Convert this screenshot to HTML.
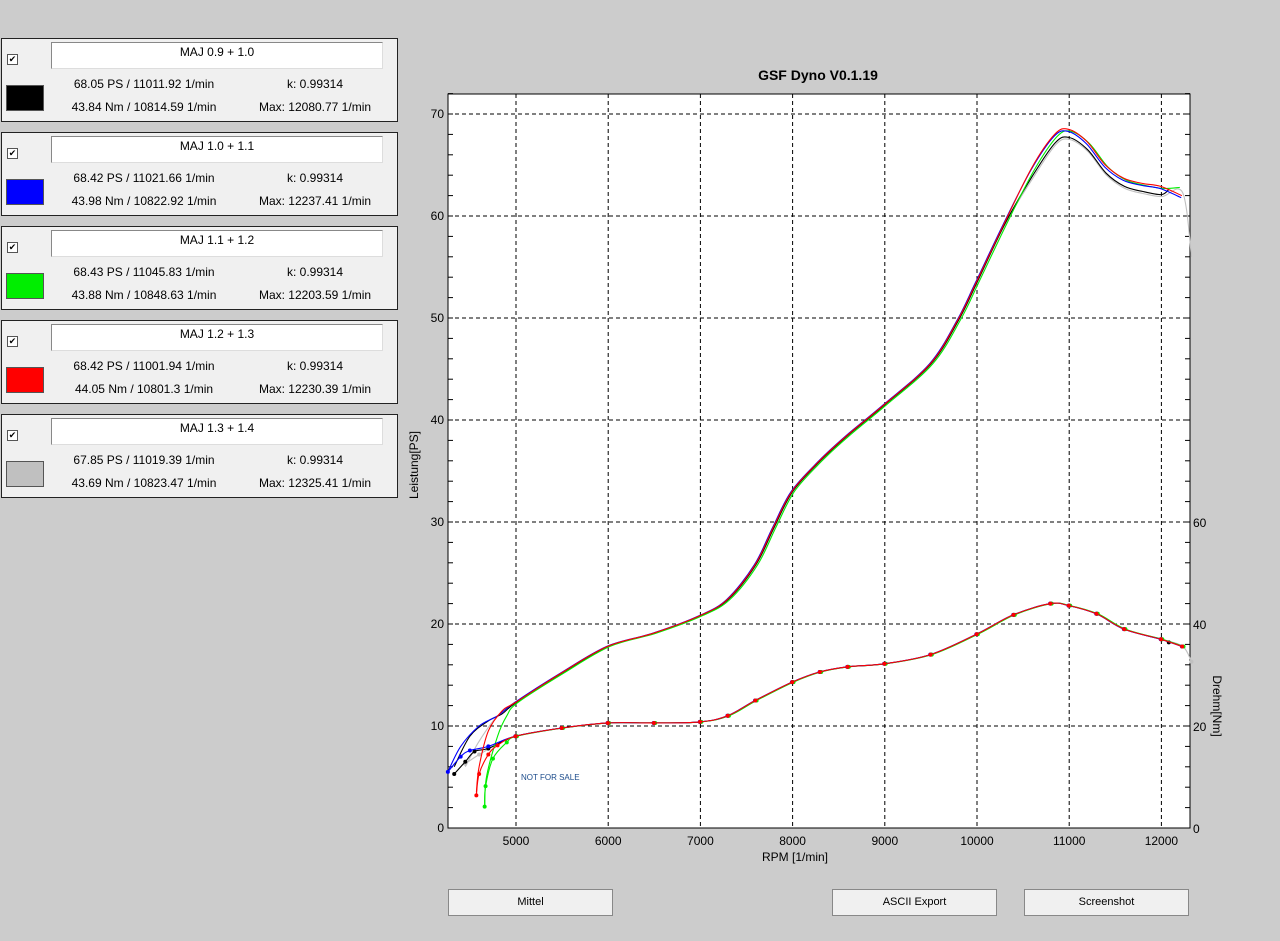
<!DOCTYPE html>
<html><head><meta charset="utf-8"><style>
body{margin:0;width:1280px;height:941px;background:#cccccc;font-family:"Liberation Sans",Arial,sans-serif;position:relative;overflow:hidden}
.p{position:absolute;left:1px;width:395px;height:82px;background:#f0f0f0;border:1px solid #222}
.t{position:absolute;left:49px;top:3px;width:330px;height:25px;background:#fff;border:1px solid #888;border-right-color:#ddd;border-bottom-color:#ddd;font-size:12px;text-align:center;line-height:19px}
.cb{position:absolute;left:5px;top:15px;width:9px;height:9px;background:#fff;border:1px solid #555;font-size:9px;line-height:9px;text-align:center}
.sw{position:absolute;left:4px;top:46px;width:36px;height:24px;border:1px solid #555}
.l{position:absolute;font-size:12px;white-space:nowrap;transform:translateX(-50%)}
.b{position:absolute;top:889px;width:163px;height:25px;background:#f0f0f0;border:1px solid #888;font-size:11px;text-align:center;line-height:25px}
</style></head><body>
<div id="panels"></div>
<div style="position:absolute;left:660px;top:67px;width:316px;text-align:center;font-weight:bold;font-size:14px">GSF Dyno V0.1.19</div>
<svg id="s" width="1280" height="941" style="position:absolute;left:0;top:0" font-family="Liberation Sans,Arial,sans-serif"></svg>
<div class="b" style="left:448px">Mittel</div>
<div class="b" style="left:832px">ASCII Export</div>
<div class="b" style="left:1024px">Screenshot</div>
<script>
const P=[["MAJ 0.9 + 1.0","68.05 PS / 11011.92 1/min","43.84 Nm / 10814.59 1/min","Max: 12080.77 1/min","#000"],
["MAJ 1.0 + 1.1","68.42 PS / 11021.66 1/min","43.98 Nm / 10822.92 1/min","Max: 12237.41 1/min","#0000ff"],
["MAJ 1.1 + 1.2","68.43 PS / 11045.83 1/min","43.88 Nm / 10848.63 1/min","Max: 12203.59 1/min","#00ee00"],
["MAJ 1.2 + 1.3","68.42 PS / 11001.94 1/min","44.05 Nm / 10801.3 1/min","Max: 12230.39 1/min","#ff0000"],
["MAJ 1.3 + 1.4","67.85 PS / 11019.39 1/min","43.69 Nm / 10823.47 1/min","Max: 12325.41 1/min","#c0c0c0"]];
let h="";P.forEach((p,i)=>{h+=`<div class="p" style="top:${38+i*94}px"><div class="t">${p[0]}</div><div class="cb">✔</div><div class="sw" style="background:${p[4]}"></div><div class="l" style="left:142px;top:38px">${p[1]}</div><div class="l" style="left:142px;top:61px">${p[2]}</div><div class="l" style="left:313px;top:38px">k: 0.99314</div><div class="l" style="left:313px;top:61px">${p[3]}</div></div>`});
document.getElementById("panels").innerHTML=h;
const X=r=>516+(r-5000)*0.0922, Y=v=>828-v*10.2;
let s=`<rect x="448" y="94" width="742" height="734" fill="#fff" stroke="#000"/>`;
for(let r=5000;r<=12000;r+=1000){s+=`<line x1="${X(r)}" y1="94" x2="${X(r)}" y2="828" stroke="#000" stroke-dasharray="4,3"/><text x="${X(r)}" y="845" font-size="12" text-anchor="middle">${r}</text>`}
for(let v=10;v<=70;v+=10){s+=`<line x1="448" y1="${Y(v)}" x2="1190" y2="${Y(v)}" stroke="#000" stroke-dasharray="4,3"/>`}
for(let v=0;v<=70;v+=10)s+=`<text x="444" y="${Y(v)+4}" font-size="12" text-anchor="end">${v}</text>`;
for(let v=0;v<=72;v+=2)s+=`<line x1="448" y1="${Y(v)}" x2="453" y2="${Y(v)}" stroke="#000"/>`;
for(let v=0;v<=72;v+=2)s+=`<line x1="1185" y1="${Y(v)}" x2="1190" y2="${Y(v)}" stroke="#000"/>`;
[0,20,40,60].forEach(n=>s+=`<text x="1193" y="${Y(n/2)+5}" font-size="12">${n}</text>`);
s+=`<text x="418" y="465" font-size="12" text-anchor="middle" transform="rotate(-90 418 465)">Leistung[PS]</text>`;
s+=`<text x="795" y="861" font-size="12" text-anchor="middle">RPM [1/min]</text>`;
s+=`<text x="1213" y="706" font-size="12" text-anchor="middle" transform="rotate(90 1213 706)">Drehm[Nm]</text>`;
s+=`<text x="521" y="780" font-size="8" fill="#1a4a8a">NOT FOR SALE</text>`;
const pw=[[5000,12.3],[5500,15.2],[6000,17.8],[6500,19.1],[7000,20.8],[7300,22.4],[7600,25.8],[7800,29.5],[8000,33],[8300,36],[8600,38.5],[9000,41.5],[9500,45.5],[9800,49.8],[10000,53.5],[10300,59.2],[10600,64.5],[10850,67.8],[11000,68.3],[11200,67.1],[11400,64.8],[11600,63.5],[11800,63],[12000,62.7],[12230,61.8]];
const tq=[[5000,9],[5500,9.8],[6000,10.3],[6500,10.3],[7000,10.4],[7300,11],[7600,12.5],[8000,14.3],[8300,15.3],[8600,15.8],[9000,16.1],[9500,17],[10000,19],[10400,20.9],[10800,22],[11000,21.8],[11300,21],[11600,19.5],[12000,18.5],[12230,17.8]];
const lowP={"#0000ff":[[4261,5.5],[4400,8],[4600,10],[4800,11]],"#000":[[4330,6],[4500,9],[4700,10.5],[4850,11.2]],"#c0c0c0":[[4450,6],[4600,8.5],[4800,11]],"#ff0000":[[4570,3.5],[4600,6],[4700,9.5],[4850,11.5]],"#00ee00":[[4660,2],[4680,5],[4800,9],[4900,11]]};
const lowT={"#0000ff":[[4261,5.5],[4400,7],[4500,7.6],[4700,8]],"#000":[[4330,5.3],[4450,6.5],[4550,7.5],[4700,7.8]],"#c0c0c0":[[4450,6.3],[4600,7.2],[4800,8.2]],"#ff0000":[[4570,3.2],[4600,5.3],[4700,7.2],[4800,8.1]],"#00ee00":[[4660,2.1],[4670,4.1],[4750,6.8],[4900,8.4]]};
const off={"#000":[0,-0.3],"#0000ff":[-15,0],"#00ee00":[20,0],"#ff0000":[-8,0.1],"#c0c0c0":[5,-0.4]};
function path(pts){const q=pts.map(p=>[X(p[0]),Y(p[1])]);let d="M"+q[0][0].toFixed(1)+","+q[0][1].toFixed(1);
 for(let i=0;i<q.length-1;i++){const p0=q[i-1]||q[i],p1=q[i],p2=q[i+1],p3=q[i+2]||p2;
 const c1=[p1[0]+(p2[0]-p0[0])/6,p1[1]+(p2[1]-p0[1])/6],c2=[p2[0]-(p3[0]-p1[0])/6,p2[1]-(p3[1]-p1[1])/6];
 d+=` C${c1[0].toFixed(1)},${c1[1].toFixed(1)} ${c2[0].toFixed(1)},${c2[1].toFixed(1)} ${p2[0].toFixed(1)},${p2[1].toFixed(1)}`;}return d;}
["#c0c0c0","#000","#00ee00","#0000ff","#ff0000"].forEach(c=>{
 const o=off[c];
 let p=lowP[c].concat(pw.map(q=>[q[0]+o[0],q[1]+(q[0]>10500?o[1]*2:0)]));
 let t=lowT[c].concat(tq.map(q=>[q[0]+o[0]*0.5,q[1]]));
 if(c=="#c0c0c0"){p[p.length-1]=[12230,62.3];p.push([12326,56]);t.push([12326,16.3]);}
 if(c=="#000"){p[p.length-1]=[12080,62.6];t[t.length-1]=[12080,18.2];}
 if(c=="#00ee00"){p[p.length-1]=[12200,62.8];}
 s+=`<path d="${path(p)}" fill="none" stroke="${c}" stroke-width="1.1"/>`;
 s+=`<path d="${path(t)}" fill="none" stroke="${c}" stroke-width="1.1"/>`;
 t.forEach((q,i)=>{s+=`<circle cx="${X(q[0])}" cy="${Y(q[1])}" r="2" fill="${c}"/>`});
});
document.getElementById("s").innerHTML=s;
</script>
</body></html>
